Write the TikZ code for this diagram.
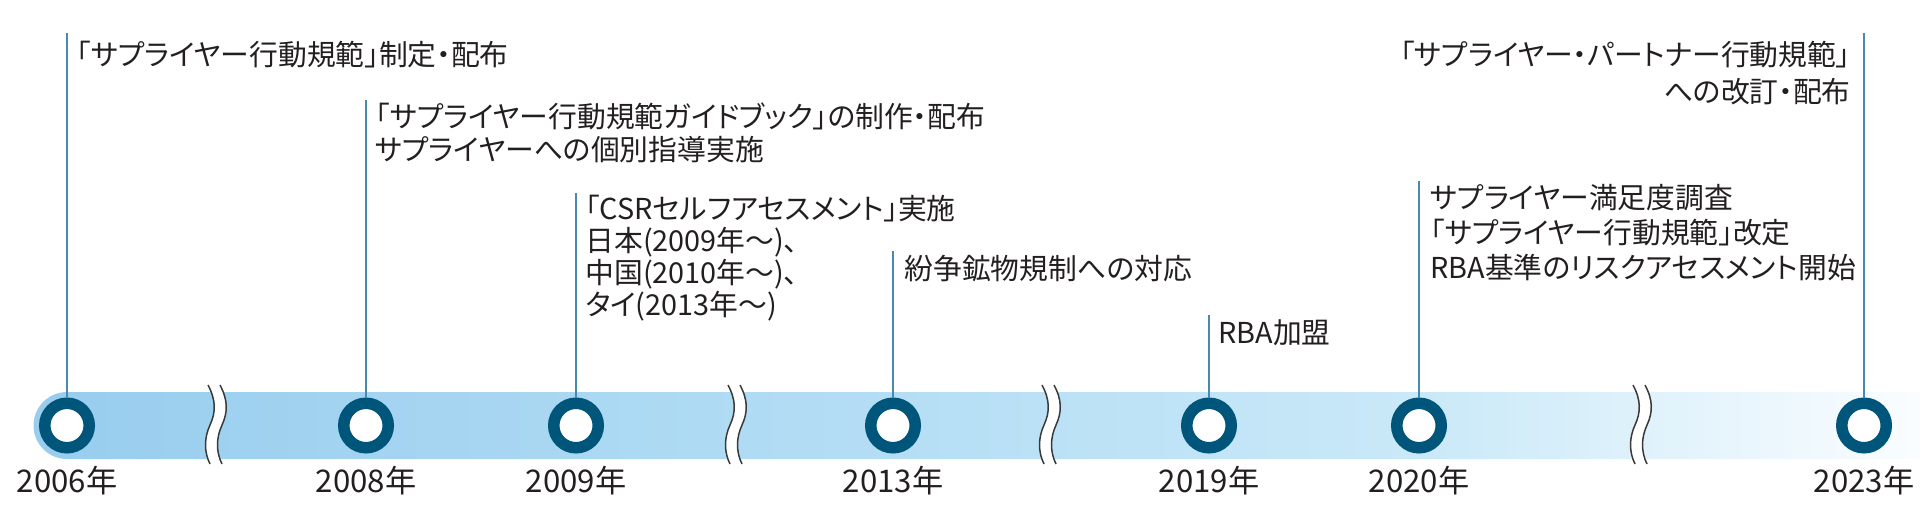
\documentclass[tikz,border=0pt]{standalone}
\usepackage{fontspec}
\usepackage{tikz}
\usepackage{xcolor}
\usetikzlibrary{positioning, calc}
\newfontfamily\jpfont[RawFeature=+palt]{Noto Sans CJK JP}
\definecolor{TextInk}{HTML}{231F20}
\definecolor{RingInk}{HTML}{00557A}
\definecolor{LeadInk}{HTML}{4A89AE}
\definecolor{BreakInk}{HTML}{3A3A3A}
\definecolor{BandA}{HTML}{98CDEE}
\definecolor{BandB}{HTML}{B5DEF5}
\definecolor{BandC}{HTML}{CAE9F8}
\definecolor{BandD}{HTML}{FAFDFF}
\pgfdeclarehorizontalshading{bandshade}{100bp}{%
  color(0bp)=(BandA); color(25bp)=(BandA); color(48bp)=(BandB);
  color(62bp)=(BandC); color(75bp)=(BandD); color(100bp)=(BandD)}

\begin{document}
\begin{tikzpicture}[
    x=0.5pt, y=-0.5pt,
    font=\jpfont\fontsize{14.4pt}{16pt}\selectfont,
    ring/.style={
      circle,
      draw=RingInk,
      fill=white,
      line width=5.75pt,
      inner sep=0pt,
      minimum size=22.25pt,
    },
    lead/.style={LeadInk, line width=1pt},
    note/.style={
      anchor=base west,
      align=left,
      inner sep=0pt,
      text=TextInk,
    },
    yr/.style={
      anchor=base,
      inner sep=0pt,
      text=TextInk,
      font=\jpfont\fontsize{15.6pt}{18pt}\selectfont,
    },
    brk/.style={BreakInk, line width=0.75pt},
  ]
  \useasboundingbox (0,0) rectangle (1920,511);

  % time band, fading out to the right
  \shade[shading=bandshade] (67,392) -- (1920,392) -- (1920,459) -- (67,459)
    arc[start angle=90, end angle=270, radius=33.5] -- cycle;

  % gaps in the time axis
  \foreach \bx in {215,735,1049,1640} {
    \fill[white] (\bx-7,385) .. controls (\bx+1,400) and (\bx+1,412) .. (\bx-5,425)
      .. controls (\bx-11,438) and (\bx-11,452) .. (\bx-5,464)
      -- (\bx+7,464) .. controls (\bx+1,452) and (\bx+1,438) .. (\bx+7,425)
      .. controls (\bx+13,412) and (\bx+13,400) .. (\bx+5,385) -- cycle;
    \foreach \dx in {0,12} {
      \draw[brk] (\bx-7+\dx,385) .. controls (\bx+1+\dx,400) and (\bx+1+\dx,412) .. (\bx-5+\dx,425)
        .. controls (\bx-11+\dx,438) and (\bx-11+\dx,452) .. (\bx-5+\dx,464);
    }
  }

  % year marks
  \foreach \yx/\yn in {67/2006, 366/2008, 576/2009, 893/2013, 1209/2019, 1419/2020, 1864/2023} {
    \node[ring] (r\yn) at (\yx,425.5) {};
    \node[yr] (y\yn) at (\yx,492) {\yn 年};
  }

  % tops of the leader lines
  \coordinate (t2006) at (67,33);
  \coordinate (t2008) at (366,100);
  \coordinate (t2009) at (576,193);
  \coordinate (t2013) at (893,251);
  \coordinate (t2019) at (1209,315);
  \coordinate (t2020) at (1419,181);
  \coordinate (t2023) at (1864,33);
  \foreach \yn in {2006,2008,2009,2013,2019,2020,2023} {
    \draw[lead] (r\yn.north) -- (t\yn);
  }

  % notes sit on the baseline of their last line
  \node[note] (n2006) at (76,65) {「サプライヤー行動規範」制定・配布};
  \node[note, font=\jpfont\fontsize{14.4pt}{16.5pt}\selectfont] (n2008) at (375,160) {%
    「サプライヤー行動規範ガイドブック」の制作・配布\\
    サプライヤーへの個別指導実施};
  \node[note] (n2009) at (585,315) {%
    「CSRセルフアセスメント」実施\\
    日本(2009年〜)、\\
    中国(2010年〜)、\\
    タイ(2013年〜)};
  \node[note] (n2013) at (904,279) {紛争鉱物規制への対応};
  \node[note] (n2019) at (1218,343) {RBA加盟};
  \node[note, font=\jpfont\fontsize{14.4pt}{17.5pt}\selectfont] (n2020) at (1430,278) {%
    サプライヤー満足度調査\\
    「サプライヤー行動規範」改定\\
    RBA基準のリスクアセスメント開始};
  \node[note, anchor=base east, align=right,
    font=\jpfont\fontsize{14.4pt}{18.5pt}\selectfont] (n2023) at (1851,102) {%
    「サプライヤー・パートナー行動規範」\\
    への改訂・配布};
\end{tikzpicture}
\end{document}
